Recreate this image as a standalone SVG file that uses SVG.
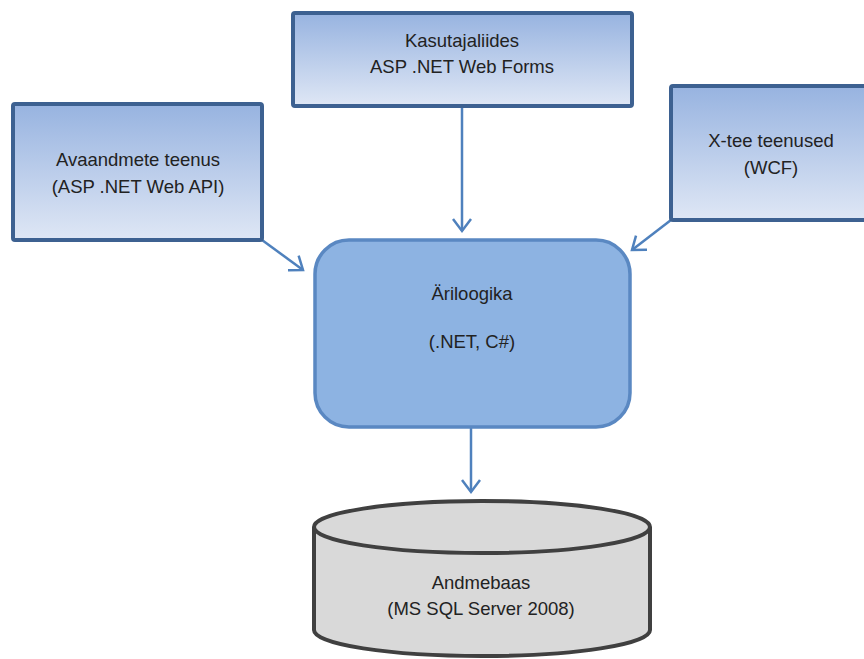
<svg xmlns="http://www.w3.org/2000/svg" width="864" height="659" viewBox="0 0 864 659">
<defs>
<linearGradient id="g" x1="0" y1="0" x2="0" y2="1">
<stop offset="0" stop-color="#97b3e0"/>
<stop offset="1" stop-color="#dfe7f5"/>
</linearGradient>
<marker id="ah" markerWidth="16" markerHeight="20" refX="13" refY="10" orient="auto" markerUnits="userSpaceOnUse" viewBox="0 0 16 20">
<path d="M1,1 L13,10 L1,19" fill="none" stroke="#4f81bd" stroke-width="2.5"/>
</marker>
<style>
.box{fill:url(#g);stroke:#3d6191;stroke-width:4}
.t{font-family:"Liberation Sans",Arial,sans-serif;font-size:18.5px;fill:#222;text-anchor:middle}
.c{stroke:#4f81bd;stroke-width:2.5;fill:none;marker-end:url(#ah)}
</style>
</defs>
<rect width="864" height="659" fill="#fff"/>
<g id="connectors">
<line class="c" x1="462" y1="106" x2="462" y2="231"/>
<line class="c" x1="262" y1="240" x2="303" y2="270"/>
<line class="c" x1="671" y1="220" x2="632" y2="250"/>
<line class="c" x1="471" y1="427" x2="471" y2="492"/>
</g>
<g id="kasutajaliides">
<rect class="box" x="293" y="13" width="339" height="93" rx="2"/>
<text class="t" x="462" y="47">Kasutajaliides</text>
<text class="t" x="462" y="73">ASP .NET Web Forms</text>
</g>
<g id="avaandmete">
<rect class="box" x="13" y="104" width="249" height="136" rx="2"/>
<text class="t" x="138" y="166">Avaandmete teenus</text>
<text class="t" x="138" y="193">(ASP .NET Web API)</text>
</g>
<g id="xtee">
<rect class="box" x="671" y="86" width="200" height="134" rx="2"/>
<text class="t" x="771" y="147">X-tee teenused</text>
<text class="t" x="771" y="174">(WCF)</text>
</g>
<g id="ariloogika">
<rect x="315" y="240" width="315" height="187" rx="34" fill="#8db3e2" stroke="#5a88c2" stroke-width="3.5"/>
<text class="t" x="472" y="300">Äriloogika</text>
<text class="t" x="472" y="348">(.NET, C#)</text>
</g>
<g id="andmebaas">
<path d="M314,527 L314,630 A168,26 0 0 0 650,630 L650,527" fill="#d9d9d9" stroke="#404040" stroke-width="4"/>
<ellipse cx="482" cy="527" rx="168" ry="26" fill="#d9d9d9" stroke="#404040" stroke-width="4"/>
<text class="t" x="481" y="589">Andmebaas</text>
<text class="t" x="481" y="615">(MS SQL Server 2008)</text>
</g>
</svg>
